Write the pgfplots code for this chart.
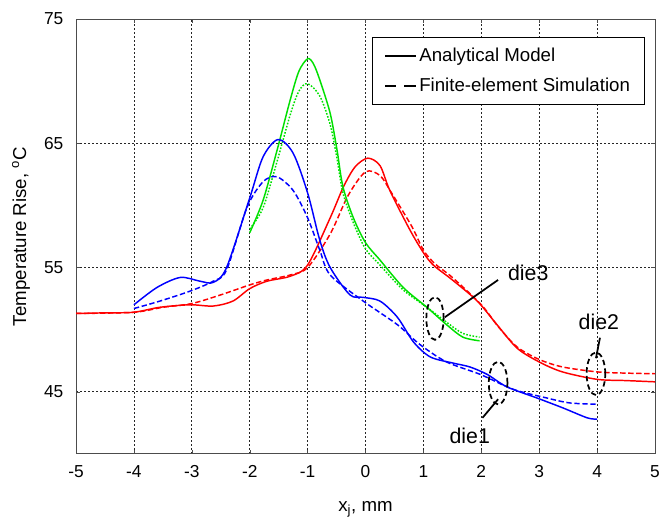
\documentclass[border=0pt]{standalone}
\usepackage{fontspec}
\setmainfont{Liberation Sans}
\usepackage{pgfplots}
\pgfplotsset{compat=1.18}
\definecolor{cred}{HTML}{FF0000}
\definecolor{cgreen}{HTML}{00E000}
\definecolor{cblue}{HTML}{0000FF}
\begin{document}
\begin{tikzpicture}
\begin{axis}[
  scale only axis,
  width=434pt, height=326pt,
  xmin=-5, xmax=5, ymin=40, ymax=75,
  xtick={-5,-4,...,5}, ytick={45,55,65,75},
  grid=major,
  grid style={black!85, line width=0.55pt, dash pattern=on 1.2pt off 1.8pt},
  axis line style={black!70, line width=0.7pt},
  tick align=inside, major tick length=3pt,
  tick style={black!70},
  /pgf/number format/assume math mode=true,
  tick label style={font=\fontsize{13}{15}\selectfont},
  xticklabel style={yshift=-5pt},
  yticklabel style={xshift=-6pt},
  xlabel={x\textsubscript{j}, mm},
  ylabel={Temperature Rise, \textsuperscript{o}C},
  label style={font=\fontsize{14}{16}\selectfont},
  xlabel style={at={(axis description cs:0.5,-0.127)}, anchor=center},
  ylabel style={at={(axis description cs:-0.095,0.5)}, anchor=center, rotate=0},
  legend style={at={(axis description cs:0.983,0.959)}, anchor=north east,
    draw=black, line width=0.7pt, font=\fontsize{14}{17}\selectfont,
    row sep=7pt, inner xsep=9pt, inner ysep=6pt, cells={anchor=west}},
  legend image code/.code={\draw[#1, line width=1.3pt] (0pt,0pt) -- (23pt,0pt);},
  every axis plot/.append style={line width=1.1pt, smooth, tension=0.5},
]
\addlegendimage{black, solid}
\addlegendentry{Analytical Model}
\addlegendimage{black, dash pattern=on 8.5pt off 6pt}
\addlegendentry{Finite-element Simulation}

% die2 (red)
\addplot[cred, forget plot] coordinates {
(-5,51.3) (-4.5,51.35) (-4,51.4) (-3.55,51.8) (-3.03,52.0) (-2.63,51.9) (-2.29,52.3)
(-2.0,53.3) (-1.7,53.9) (-1.3,54.3) (-1.0,55.2) (-0.61,59.0) (-0.38,61.5) (-0.18,63.1)
(0.04,63.8) (0.25,63.2) (0.42,61.2) (0.77,58.0) (1.0,56.2) (1.17,55.2) (1.5,54.0)
(1.93,52.3) (2.27,50.4) (2.62,48.5) (3.0,47.4) (3.4,46.6) (4.0,46.0) (4.5,45.9) (5,45.8)};
\addplot[cred, dash pattern=on 4pt off 2pt, forget plot] coordinates {
(-5,51.3) (-4,51.4) (-3.5,51.8) (-3,52.1) (-2.5,52.8) (-2.0,53.6) (-1.7,54.0)
(-1.3,54.4) (-1.0,55.0) (-0.61,57.7) (-0.3,60.8) (0.0,62.7) (0.25,62.4) (0.45,61.0)
(0.8,58.3) (1.0,56.4) (1.2,55.3) (1.5,54.2) (2.0,52.0) (2.3,50.2) (2.62,48.6)
(3.0,47.6) (3.4,47.0) (4.0,46.6) (4.5,46.5) (5,46.45)};

% die3 (green)
\addplot[cgreen, forget plot] coordinates {
(-2.0,57.8) (-1.77,60.4) (-1.53,64.4) (-1.3,68.5) (-1.15,70.8) (-1.0,71.8) (-0.9,71.4)
(-0.79,70.1) (-0.61,67.4) (-0.49,64.4) (-0.39,61.5) (-0.21,59.0) (0,57.0) (0.25,55.6)
(0.65,53.4) (1.06,51.8) (1.4,50.4) (1.68,49.4) (1.97,49.1)};
\addplot[cgreen, dash pattern=on 1.2pt off 1.2pt, forget plot] coordinates {
(-2.0,58.1) (-1.77,59.8) (-1.53,63.5) (-1.3,67.3) (-1.15,69.2) (-1.0,69.8) (-0.79,68.8)
(-0.61,66.5) (-0.49,63.7) (-0.39,61.0) (-0.21,58.6) (0,56.5) (0.25,55.2) (0.65,53.2)
(1.06,51.8) (1.4,50.6) (1.68,49.7) (1.97,49.4)};

% die1 (blue)
\addplot[cblue, forget plot] coordinates {
(-4,52.0) (-3.6,53.4) (-3.2,54.2) (-2.86,53.9) (-2.63,53.8) (-2.4,55.0) (-2.0,60.6)
(-1.77,63.9) (-1.51,65.3) (-1.25,64.2) (-1.0,61.0) (-0.79,57.2) (-0.61,55.0)
(-0.27,52.8) (-0.04,52.6) (0.25,52.3) (0.55,51.0) (0.83,49.0) (1.12,47.8) (1.52,47.3)
(1.8,47.0) (2.1,46.4) (2.44,45.4) (2.96,44.5) (3.41,43.7) (3.83,42.9) (4.0,42.8)};
\addplot[cblue, dash pattern=on 4pt off 2pt, forget plot] coordinates {
(-4,51.7) (-3.55,52.3) (-3.03,53.1) (-2.63,53.9) (-2.4,54.8) (-2.05,59.8) (-1.77,61.9)
(-1.53,62.3) (-1.25,61.2) (-1.0,59.0) (-0.79,56.4) (-0.61,54.4) (-0.04,52.3)
(0.55,50.4) (0.94,48.8) (1.4,47.4) (1.98,46.4) (2.55,45.2) (3.13,44.5) (3.53,44.1)
(4.0,44.0)};

% annotations
\draw[black, line width=1.3pt, dash pattern=on 4pt off 2.5pt] (axis cs:1.2,50.9) ellipse [x radius=6.5pt, y radius=16pt];
\draw[black, line width=1.3pt] (axis cs:1.37,51.0) -- (axis cs:2.29,54.0);
\node[font=\fontsize{16}{19}\selectfont] at (axis cs:2.81,54.6) {die3};

\draw[black, line width=1.3pt, dash pattern=on 4pt off 2.5pt] (axis cs:2.29,45.7) ellipse [x radius=7pt, y radius=16pt];
\draw[black, line width=1.3pt] (axis cs:2.29,44.4) -- (axis cs:2.02,42.9);
\node[font=\fontsize{16}{19}\selectfont] at (axis cs:1.80,41.45) {die1};

\draw[black, line width=1.3pt, dash pattern=on 4pt off 2.5pt] (axis cs:3.98,46.45) ellipse [x radius=7pt, y radius=16pt];
\draw[black, line width=1.3pt] (axis cs:3.98,47.7) -- (axis cs:4.05,49.35);
\node[font=\fontsize{16}{19}\selectfont] at (axis cs:4.03,50.6) {die2};
\end{axis}
\pgfresetboundingbox
\path[use as bounding box] ([xshift=-57pt,yshift=-55.5pt]current axis.south west) rectangle ([xshift=3.75pt,yshift=14.25pt]current axis.north east);
\end{tikzpicture}
\end{document}
